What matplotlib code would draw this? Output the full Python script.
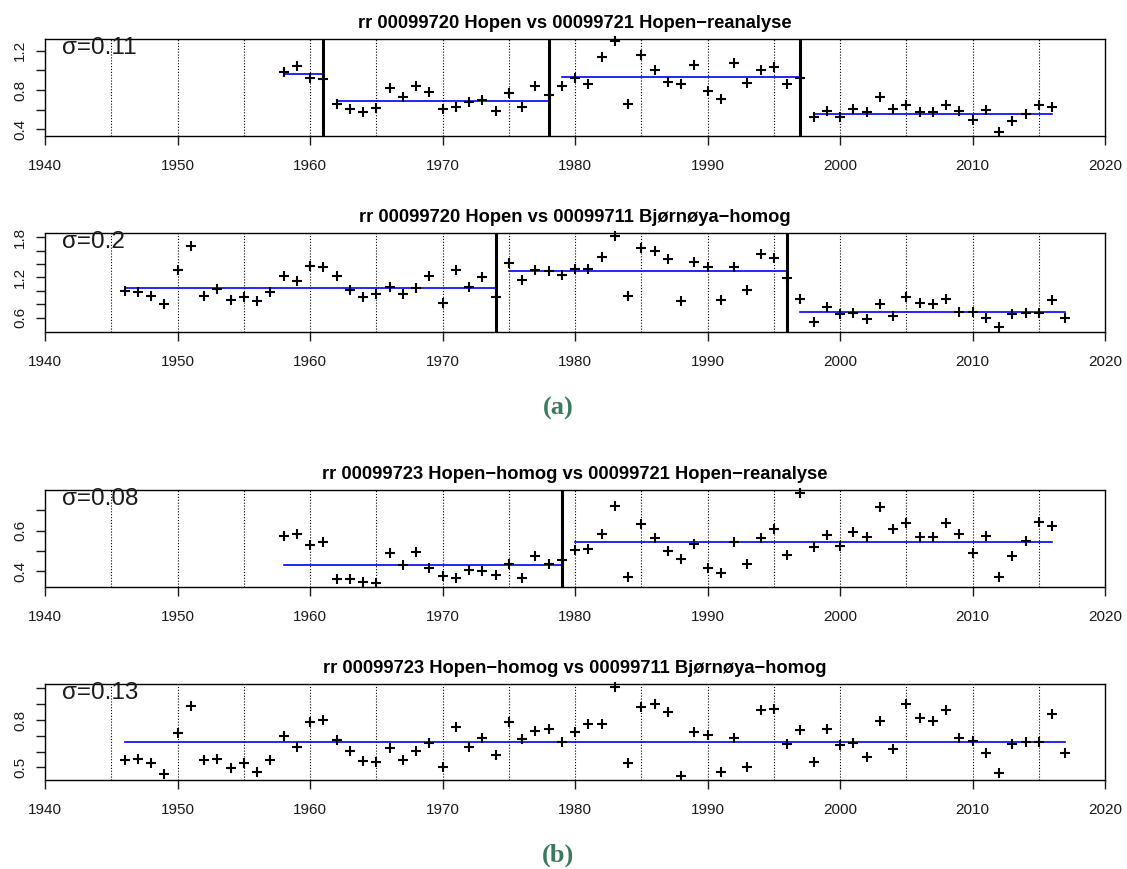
import matplotlib
matplotlib.use("Agg")
import matplotlib.pyplot as plt
import numpy as np

plt.rcParams['font.family'] = ['Liberation Sans', 'DejaVu Sans']

# ---------------- data ----------------
titles = [
    "rr 00099720 Hopen vs 00099721 Hopen\u2212reanalyse",
    "rr 00099720 Hopen vs 00099711 Bj\u00f8rn\u00f8ya\u2212homog",
    "rr 00099723 Hopen\u2212homog vs 00099721 Hopen\u2212reanalyse",
    "rr 00099723 Hopen\u2212homog vs 00099711 Bj\u00f8rn\u00f8ya\u2212homog",
]
sigma_labels = ["\u03c3=0.11", "\u03c3=0.2", "\u03c3=0.08", "\u03c3=0.13"]

years1 = list(range(1958, 2017))
vals1 = [0.98, 1.04, 0.925, 0.912, 0.654, 0.607, 0.58, 0.62, 0.817, 0.732, 0.84, 0.783,
         0.607, 0.63, 0.68, 0.70, 0.59, 0.766, 0.63, 0.84, 0.749, 0.84,
         0.925, 0.864, 1.132, 1.295, 0.654, 1.156, 1.003, 0.878, 0.858, 1.051,
         0.793, 0.708, 1.075, 0.875, 1.003, 1.037, 0.861, 0.925, 0.529, 0.59,
         0.522, 0.603, 0.573, 0.725, 0.61, 0.644, 0.573, 0.57, 0.644, 0.59,
         0.495, 0.593, 0.373, 0.478, 0.559, 0.647, 0.63]
segs1 = [(1958, 1961, 0.959), (1962, 1978, 0.692), (1979, 1997, 0.932), (1998, 2016, 0.559)]
breaks1 = [1961, 1978, 1997]

years2 = list(range(1946, 2018))
vals2 = [0.995, 0.985, 0.925, 0.80, 1.305, 1.665, 0.925, 1.035, 0.86, 0.91, 0.845, 0.985,
         1.22, 1.15, 1.375, 1.355, 1.22, 1.01, 0.91, 0.96, 1.06, 0.96, 1.05, 1.22,
         0.825, 1.31, 1.06, 1.20, 0.91, 1.41, 1.16, 1.31, 1.30, 1.24,
         1.325, 1.32, 1.505, 1.82, 0.925, 1.63, 1.595, 1.475, 0.845, 1.425,
         1.36, 0.86, 1.36, 1.01, 1.545, 1.495, 1.185, 0.875, 0.545, 0.76,
         0.65, 0.67, 0.585, 0.80, 0.635, 0.91, 0.82, 0.80, 0.885, 0.685,
         0.685, 0.60, 0.46, 0.65, 0.67, 0.67, 0.86, 0.60]
segs2 = [(1946, 1974, 1.045), (1975, 1996, 1.30), (1997, 2017, 0.685)]
breaks2 = [1974, 1996]

years3 = list(range(1958, 2017))
vals3 = [0.571, 0.582, 0.528, 0.543, 0.359, 0.359, 0.348, 0.343, 0.489, 0.428, 0.494, 0.416,
         0.376, 0.367, 0.405, 0.40, 0.379, 0.433, 0.367, 0.473, 0.433, 0.454,
         0.502, 0.511, 0.582, 0.722, 0.372, 0.631, 0.563, 0.501, 0.462, 0.533,
         0.416, 0.389, 0.543, 0.437, 0.563, 0.607, 0.478, 0.785, 0.517, 0.579,
         0.522, 0.595, 0.567, 0.717, 0.607, 0.636, 0.567, 0.567, 0.636, 0.582,
         0.489, 0.571, 0.372, 0.473, 0.551, 0.641, 0.624]
segs3 = [(1958, 1979, 0.428), (1980, 2016, 0.545)]
breaks3 = [1979]

years4 = list(range(1946, 2018))
vals4 = [0.548, 0.552, 0.527, 0.458, 0.719, 0.885, 0.548, 0.552, 0.496, 0.531, 0.469, 0.548,
         0.698, 0.631, 0.785, 0.798, 0.673, 0.604, 0.542, 0.535, 0.625, 0.548, 0.604, 0.656,
         0.504, 0.754, 0.631, 0.683, 0.577, 0.788, 0.677, 0.729, 0.740, 0.663,
         0.725, 0.777, 0.777, 1.01, 0.527, 0.881, 0.90, 0.848, 0.444, 0.725,
         0.704, 0.469, 0.683, 0.504, 0.86, 0.869, 0.646, 0.735, 0.535, 0.746,
         0.64, 0.656, 0.567, 0.792, 0.619, 0.90, 0.813, 0.792, 0.86, 0.683,
         0.667, 0.590, 0.4625, 0.646, 0.663, 0.663, 0.84, 0.59]
segs4 = [(1946, 2017, 0.663)]
breaks4 = []

ylims = [(0.33, 1.32), (0.39, 1.86), (0.322, 0.80), (0.421, 1.027)]
yticks = [[0.4, 0.6, 0.8, 1.0, 1.2],
          [0.6, 0.8, 1.0, 1.2, 1.4, 1.6, 1.8],
          [0.4, 0.5, 0.6, 0.7],
          [0.5, 0.6, 0.7, 0.8, 0.9, 1.0]]
ytick_labels = [["0.4", "", "0.8", "", "1.2"],
                ["0.6", "", "", "1.2", "", "", "1.8"],
                ["0.4", "", "0.6", ""],
                ["0.5", "", "", "0.8", "", ""]]
xticks = [1940, 1950, 1960, 1970, 1980, 1990, 2000, 2010, 2020]
grid_years = [1945, 1950, 1955, 1960, 1965, 1970, 1975, 1980, 1985, 1990, 1995,
              2000, 2005, 2010, 2015]
captions = ["(a)", "(b)"]

all_years = [years1, years2, years3, years4]
all_vals = [vals1, vals2, vals3, vals4]
all_segs = [segs1, segs2, segs3, segs4]
all_breaks = [breaks1, breaks2, breaks3, breaks4]

# ---------------- figure ----------------
W, H = 1127, 869
fig = plt.figure(figsize=(W / 100, H / 100), dpi=100)

boxes_px = [(39, 136), (233, 332), (490, 587), (684, 780)]
left_px, right_px = 45, 1105

for i in range(4):
    top, bot = boxes_px[i]
    ax = fig.add_axes([left_px / W, 1 - bot / H, (right_px - left_px) / W, (bot - top) / H])
    ax.set_xlim(1940, 2020)
    ax.set_ylim(*ylims[i])
    for g in grid_years:
        ax.axvline(g, color='black', lw=0.8, ls=(0, (1, 1.6)), zorder=1)
    for b in all_breaks[i]:
        ax.axvline(b, color='black', lw=2.2, zorder=3)
    for (s, e, m) in all_segs[i]:
        ax.plot([s, e], [m, m], color='#0000ff', lw=1.2, zorder=2)
    ax.plot(all_years[i], all_vals[i], ls='none', marker='+', color='black',
            markersize=7.5, mew=1.5, zorder=4, clip_on=False)
    ax.set_xticks(xticks)
    ax.set_xticklabels([str(t) for t in xticks], fontsize=11)
    ax.set_yticks(yticks[i])
    ax.set_yticklabels(ytick_labels[i], fontsize=11, rotation=90, va='center')
    ax.tick_params(axis='x', length=6.7, width=1.0, pad=10, colors='#1a1a1a')
    ax.tick_params(axis='y', length=6.7, width=1.0, pad=6, colors='#1a1a1a')
    for sp in ax.spines.values():
        sp.set_linewidth(1.0)
        sp.set_color('black')
    ax.set_title(titles[i], fontsize=13.2, fontweight='bold', pad=8)
    ax.text(0.0165, 0.91, sigma_labels[i], transform=ax.transAxes, fontsize=17.5,
            ha='left', va='center', zorder=5, color='#1a1a1a')

fig.text(558 / W, 1 - 408 / H, captions[0], ha='center', va='center', fontsize=19,
         fontweight='bold', family='Liberation Serif', color='#3c7a5f')
fig.text(558 / W, 1 - 855 / H, captions[1], ha='center', va='center', fontsize=19,
         fontweight='bold', family='Liberation Serif', color='#3c7a5f')

fig.savefig("out.png", dpi=100)
